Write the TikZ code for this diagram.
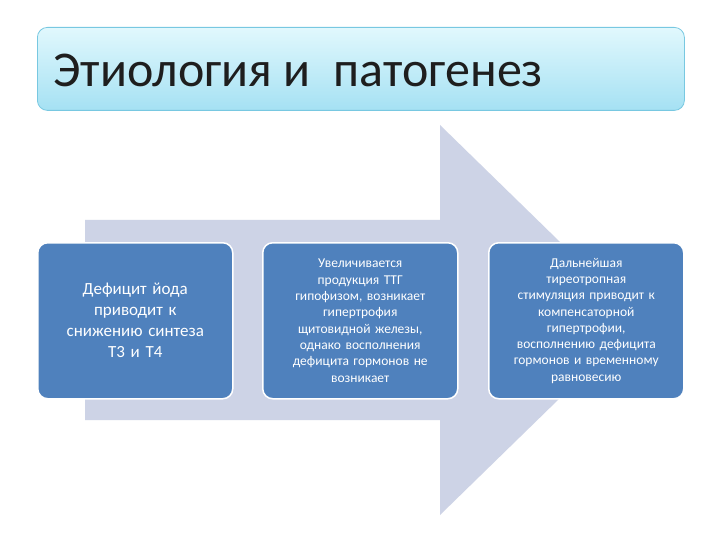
\documentclass[tikz,border=0pt]{standalone}
\usepackage{fontspec}
\setmainfont{Carlito}
\definecolor{boxblue}{RGB}{79,129,189}
\definecolor{arrowc}{RGB}{205,211,230}
\definecolor{titled}{RGB}{120,200,225}
\definecolor{titlet}{RGB}{225,248,253}
\definecolor{titleb}{RGB}{165,225,243}
\definecolor{titletext}{RGB}{30,30,30}
\begin{document}
\begin{tikzpicture}[x=1pt,y=-1pt,
  stepbox/.style={draw=white,line width=1.5pt,fill=boxblue,rounded corners=10pt,
    minimum width=195pt,minimum height=156pt,text width=188pt,align=center,text=white,inner sep=0pt,
    font=\fontsize{13.5}{16.3}\selectfont}]
\useasboundingbox (0,0) rectangle (720,540);
\fill[white] (0,0) rectangle (720,540);
\fill[arrowc] (85,220) -- (440,220) -- (440,125) -- (640,320) -- (440,515) -- (440,420) -- (85,420) -- cycle;
\node[draw=titled,line width=0.8pt,top color=titlet,bottom color=titleb,
  rounded corners=10pt,minimum width=647pt,minimum height=83pt,anchor=north west] (title) at (37,27) {};
\node[anchor=west,font=\fontsize{50}{56}\selectfont,text=titletext] (tt) at (50,70) {Этиология и\ \ патогенез};
\node[stepbox,anchor=north west,font=\fontsize{17}{21}\selectfont] (b1) at (37,242) {Дефицит йода\\приводит к\\снижению синтеза\\Т3 и Т4};
\node[stepbox,anchor=north west] (b2) at (262,242) {Увеличивается\\продукция ТТГ\\гипофизом, возникает\\гипертрофия\\щитовидной железы,\\однако восполнения\\дефицита гормонов не\\возникает};
\node[stepbox,anchor=north west] (b3) at (488,242) {Дальнейшая\\тиреотропная\\стимуляция приводит к\\компенсаторной\\гипертрофии,\\восполнению дефицита\\гормонов и временному\\равновесию};
\end{tikzpicture}
\end{document}
